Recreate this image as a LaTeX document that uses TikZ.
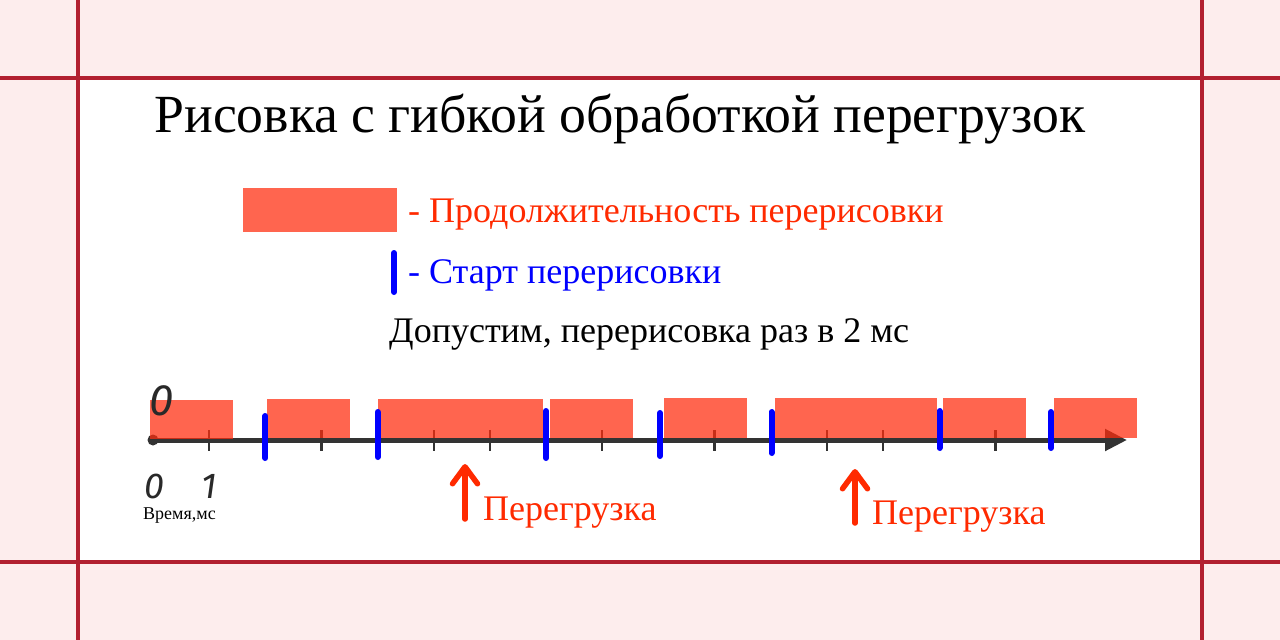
\documentclass[tikz,border=0pt]{standalone}
\usepackage{fontspec}
\setmainfont{Liberation Serif}
\newfontfamily\handfont{Fira Sans}
\usetikzlibrary{arrows.meta}
\definecolor{bgpink}{HTML}{FDEDED}
\definecolor{framered}{HTML}{B22030}
\definecolor{durfill}{RGB}{255,45,15}
\definecolor{txtred}{HTML}{FF2A00}
\definecolor{startblue}{HTML}{0000FF}
\definecolor{axisgray}{HTML}{333333}
\tikzset{
  frameline/.style={line width=4pt, framered},
  durbox/.style={fill=durfill, fill opacity=0.73},
  startmark/.style={line width=6pt, startblue, line cap=round},
  tickmark/.style={line width=2.5pt, axisgray},
  axisline/.style={line width=5pt, axisgray, -{Triangle[length=22pt,width=21pt]}},
  ovlarrow/.style={line width=5.5pt, txtred, line cap=round, line join=round,
    -{Straight Barb[round,length=17pt,width=25pt]}},
  txt/.style={inner sep=0pt, anchor=base west, font=\fontsize{36}{40}\selectfont},
  hand/.style={inner sep=0pt, anchor=base, text depth=0pt, font=\handfont\itshape\fontsize{#1}{#1}\selectfont, axisgray!80!black}
}
\begin{document}
\begin{tikzpicture}[x=1pt,y=-1pt]
\useasboundingbox (0,0) rectangle (1280,640);
% background and frame
\fill[bgpink] (0,0) rectangle (1280,640);
\fill[white] (78,78) rectangle (1202,562);
\draw[frameline] (78,0) -- (78,640);
\draw[frameline] (1202,0) -- (1202,640);
\draw[frameline] (0,78) -- (1280,78);
\draw[frameline] (0,562) -- (1280,562);

% title
\node[inner sep=0pt, anchor=base, font=\fontsize{53.7}{60}\selectfont] (title) at (620,132)
  {Рисовка с гибкой обработкой перегрузок};

% legend
\fill[durbox] (243,188) rectangle (397,232);
\node[txt, txtred] (leg1) at (408,222) {- Продолжительность перерисовки};
\coordinate (lb1) at (394,253);
\coordinate (lb2) at (394,292);
\draw[startmark] (lb1) -- (lb2);
\node[txt, startblue] (leg2) at (408,283) {- Старт перерисовки};
\node[txt] (note) at (389,342) {Допустим, перерисовка раз в 2 мс};

% axis
\coordinate (ax0) at (153,440);
\coordinate (ax1) at (1127,440);
\draw[axisline] (ax0) -- (ax1);
\fill[axisgray] (ax0) circle (5.5pt);
\foreach \k in {1,3,5,6,8,10,12,13,15}{
  \draw[tickmark] ({153+\k*56.15},430) -- ({153+\k*56.15},451);
}

% duration boxes
\fill[durbox] (150,400) rectangle (233,439);
\fill[durbox] (267,399) rectangle (350,438);
\fill[durbox] (378,399) rectangle (543,438);
\fill[durbox] (550,399) rectangle (633,438);
\fill[durbox] (664,398) rectangle (747,438);
\fill[durbox] (775,398) rectangle (937,438);
\fill[durbox] (943,398) rectangle (1026,438);
\fill[durbox] (1054,398) rectangle (1137,438);

% start marks
\draw[startmark] (265.3,416) -- (265.3,458);
\draw[startmark] (377.6,412) -- (377.6,457);
\draw[startmark] (546,411) -- (546,458);
\draw[startmark] (660,413) -- (660,456);
\draw[startmark] (771.5,412) -- (771.5,453);
\draw[startmark] (939.5,411) -- (939.5,448);
\draw[startmark] (1051,412) -- (1051,448);

% hand-written labels
\node[hand=44] (z0) at (162,415) {0};
\node[hand=36] (l0) at (154,498) {0};
\node[hand=36] (l1) at (209,498) {1};
\node[inner sep=0pt, anchor=base west, font=\fontsize{18}{20}\selectfont] (unit) at (143,519) {Время,мс};

% overload arrows
\coordinate (o1s) at (465,519);
\coordinate (o1e) at (465,464);
\draw[ovlarrow] (o1s) -- (o1e);
\node[txt, txtred] (ovl1) at (483,520) {Перегрузка};
\coordinate (o2s) at (855,523);
\coordinate (o2e) at (855,469);
\draw[ovlarrow] (o2s) -- (o2e);
\node[txt, txtred] (ovl2) at (872,524) {Перегрузка};
\end{tikzpicture}
\end{document}
